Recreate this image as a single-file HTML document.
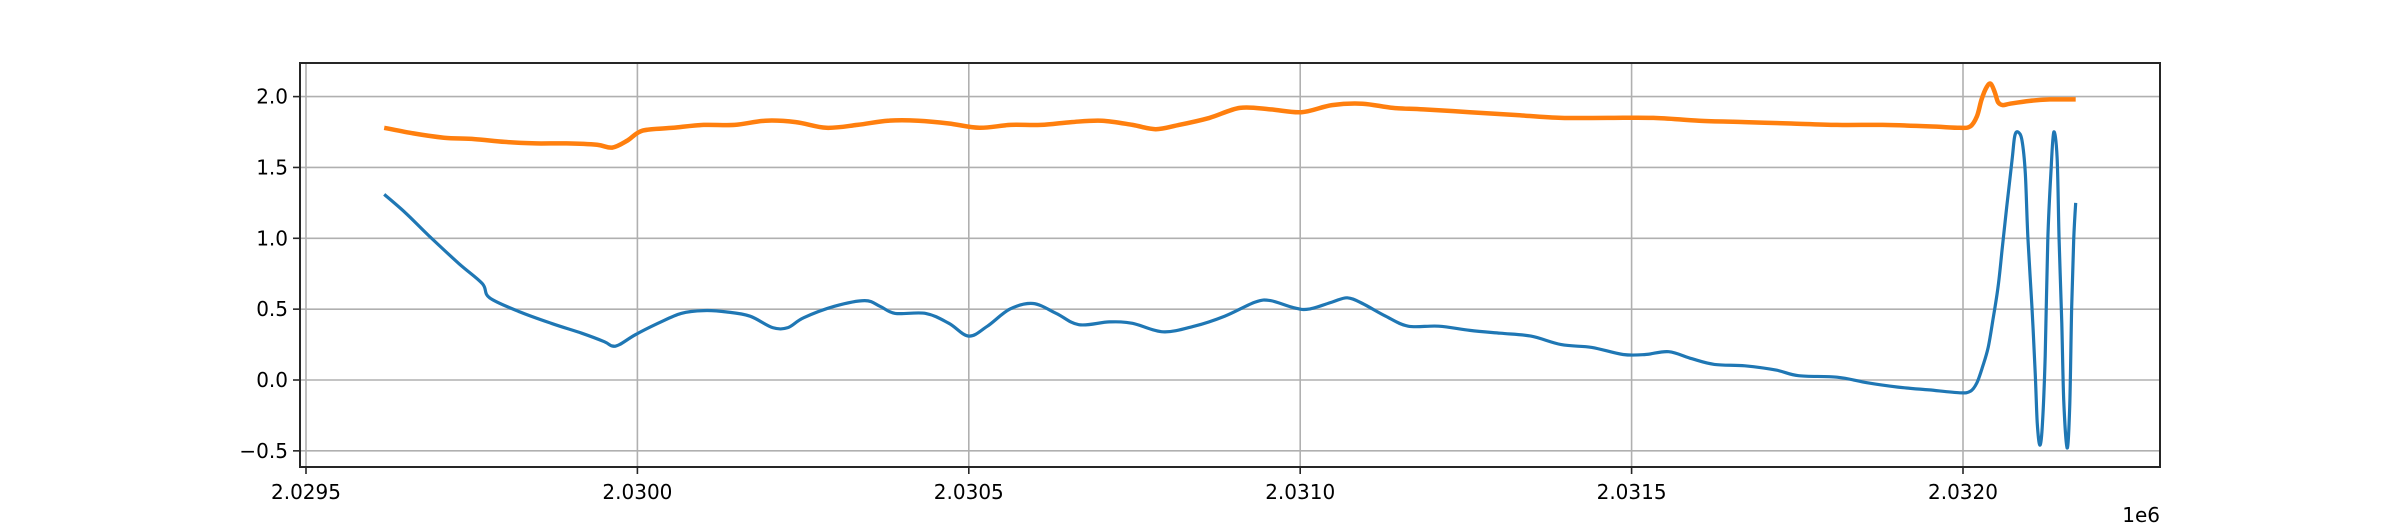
<!DOCTYPE html>
<html><head><meta charset="utf-8"><style>
body{margin:0;background:#fff}
svg text{font-family:"DejaVu Sans","Liberation Sans",sans-serif;font-size:20px;fill:#000}
</style></head><body>
<svg id="chart" width="2400" height="525" xmlns="http://www.w3.org/2000/svg">
<rect width="2400" height="525" fill="#fff"/>
<g id="grid"></g>
<g id="series"></g>
<rect x="300" y="63" width="1860" height="404" fill="none" stroke="#262626" stroke-width="2"/>
<g id="ticks"></g>
<text x="2160" y="522" text-anchor="end">1e6</text>
</svg>
<script>
const xBase = 2029500;
const xTickLabels = ["2.0295","2.0300","2.0305","2.0310","2.0315","2.0320"];
const xTickValues = [2029500,2030000,2030500,2031000,2031500,2032000];
const yTickLabels = ["\u22120.5","0.0","0.5","1.0","1.5","2.0"];
const yTickValues = [-0.5,0,0.5,1,1.5,2];
const blueX = [118,150,185,231,266,277,323,370,416,450,462,473,497,531,566,600,635,670,704,727,751,797,843,866,889,935,970,1000,1028,1062,1097,1132,1166,1212,1247,1293,1340,1386,1432,1455,1490,1513,1548,1571,1594,1629,1663,1709,1756,1802,1848,1894,1940,1987,2021,2056,2091,2125,2171,2218,2252,2310,2356,2402,2449,2495,2511,2521,2530,2538,2545,2553,2559,2566,2574,2578,2583,2589,2594,2598,2604,2609,2612,2616,2620,2624,2628,2633,2637,2642,2645,2649,2652,2657,2661,2664,2667,2670];
const blueY = [1.31,1.18,1.02,0.82,0.68,0.58,0.48,0.40,0.33,0.27,0.24,0.25,0.32,0.40,0.47,0.49,0.48,0.45,0.37,0.37,0.44,0.52,0.56,0.52,0.47,0.47,0.40,0.31,0.38,0.50,0.54,0.47,0.39,0.41,0.40,0.34,0.38,0.45,0.55,0.56,0.51,0.50,0.55,0.58,0.54,0.45,0.38,0.38,0.35,0.33,0.31,0.25,0.23,0.18,0.18,0.20,0.15,0.11,0.10,0.07,0.03,0.02,-0.02,-0.05,-0.07,-0.09,-0.08,-0.02,0.10,0.23,0.42,0.66,0.92,1.22,1.55,1.72,1.75,1.69,1.46,0.99,0.52,0.05,-0.30,-0.46,-0.30,0.17,0.99,1.50,1.75,1.57,0.99,0.40,-0.14,-0.48,-0.19,0.52,0.99,1.25];
const orangeX = [118,162,208,254,300,347,393,439,462,485,508,554,600,647,693,739,785,832,878,924,970,1016,1063,1109,1155,1201,1247,1282,1317,1363,1409,1455,1502,1548,1594,1640,1686,1756,1825,1894,1964,2033,2102,2171,2241,2310,2379,2449,2495,2511,2521,2528,2536,2542,2548,2553,2560,2571,2601,2631,2670];
const orangeY = [1.78,1.74,1.71,1.70,1.68,1.67,1.67,1.66,1.64,1.69,1.76,1.78,1.80,1.80,1.83,1.82,1.78,1.80,1.83,1.83,1.81,1.78,1.80,1.80,1.82,1.83,1.80,1.77,1.80,1.85,1.92,1.91,1.89,1.94,1.95,1.92,1.91,1.89,1.87,1.85,1.85,1.85,1.83,1.82,1.81,1.80,1.80,1.79,1.78,1.79,1.86,1.98,2.07,2.09,2.03,1.96,1.94,1.95,1.97,1.98,1.98];

const NS="http://www.w3.org/2000/svg";
function sx(v){return 306+(v-xBase)*0.6628;}
function sy(v){return 380-v*141.7;}
const grid=document.getElementById('grid'),ticks=document.getElementById('ticks'),series=document.getElementById('series');
function mk(tag,attrs,parent){const e=document.createElementNS(NS,tag);for(const k in attrs)e.setAttribute(k,attrs[k]);parent.appendChild(e);return e;}
xTickValues.forEach((v,i)=>{
  const x=sx(v);
  const g=mk('line',{x1:x,x2:x,y1:63,y2:467,stroke:'#b0b0b0','stroke-width':1.6},grid);
  
  
  const t=mk('line',{x1:x,x2:x,y1:467,y2:474,stroke:'#262626','stroke-width':1.6},ticks);
  
  
  const l=mk('text',{x:x,y:499,'text-anchor':'middle'},ticks);
  l.textContent=xTickLabels[i];
  
  
});
yTickValues.forEach((v,i)=>{
  const y=sy(v);
  const g=mk('line',{x1:300,x2:2160,y1:y,y2:y,stroke:'#b0b0b0','stroke-width':1.6},grid);
  
  
  const t=mk('line',{x1:293,x2:300,y1:y,y2:y,stroke:'#262626','stroke-width':1.6},ticks);
  
  
  const l=mk('text',{x:288,y:y+7,'text-anchor':'end'},ticks);
  l.textContent=yTickLabels[i];
  
  
});
function line(xs,ys,color,w){
  const P=xs.map((x,i)=>[sx(xBase+x),sy(ys[i])]);
  let d='M'+P[0][0].toFixed(1)+' '+P[0][1].toFixed(1);
  for(let i=0;i<P.length-1;i++){
    const p0=P[i-1]||P[i],p1=P[i],p2=P[i+1],p3=P[i+2]||p2;
    const c1=[p1[0]+(p2[0]-p0[0])/6,p1[1]+(p2[1]-p0[1])/6];
    const c2=[p2[0]-(p3[0]-p1[0])/6,p2[1]-(p3[1]-p1[1])/6];
    d+=' C'+c1[0].toFixed(1)+' '+c1[1].toFixed(1)+' '+c2[0].toFixed(1)+' '+c2[1].toFixed(1)+' '+p2[0].toFixed(1)+' '+p2[1].toFixed(1);
  }
  return mk('path',{d:d,fill:'none',stroke:color,'stroke-width':w,'stroke-linejoin':'round'},series);
}
const b=line(blueX,blueY,'#1f77b4',3.2);


const o=line(orangeX,orangeY,'#ff7f0e',4.5);


</script>
</body></html>
